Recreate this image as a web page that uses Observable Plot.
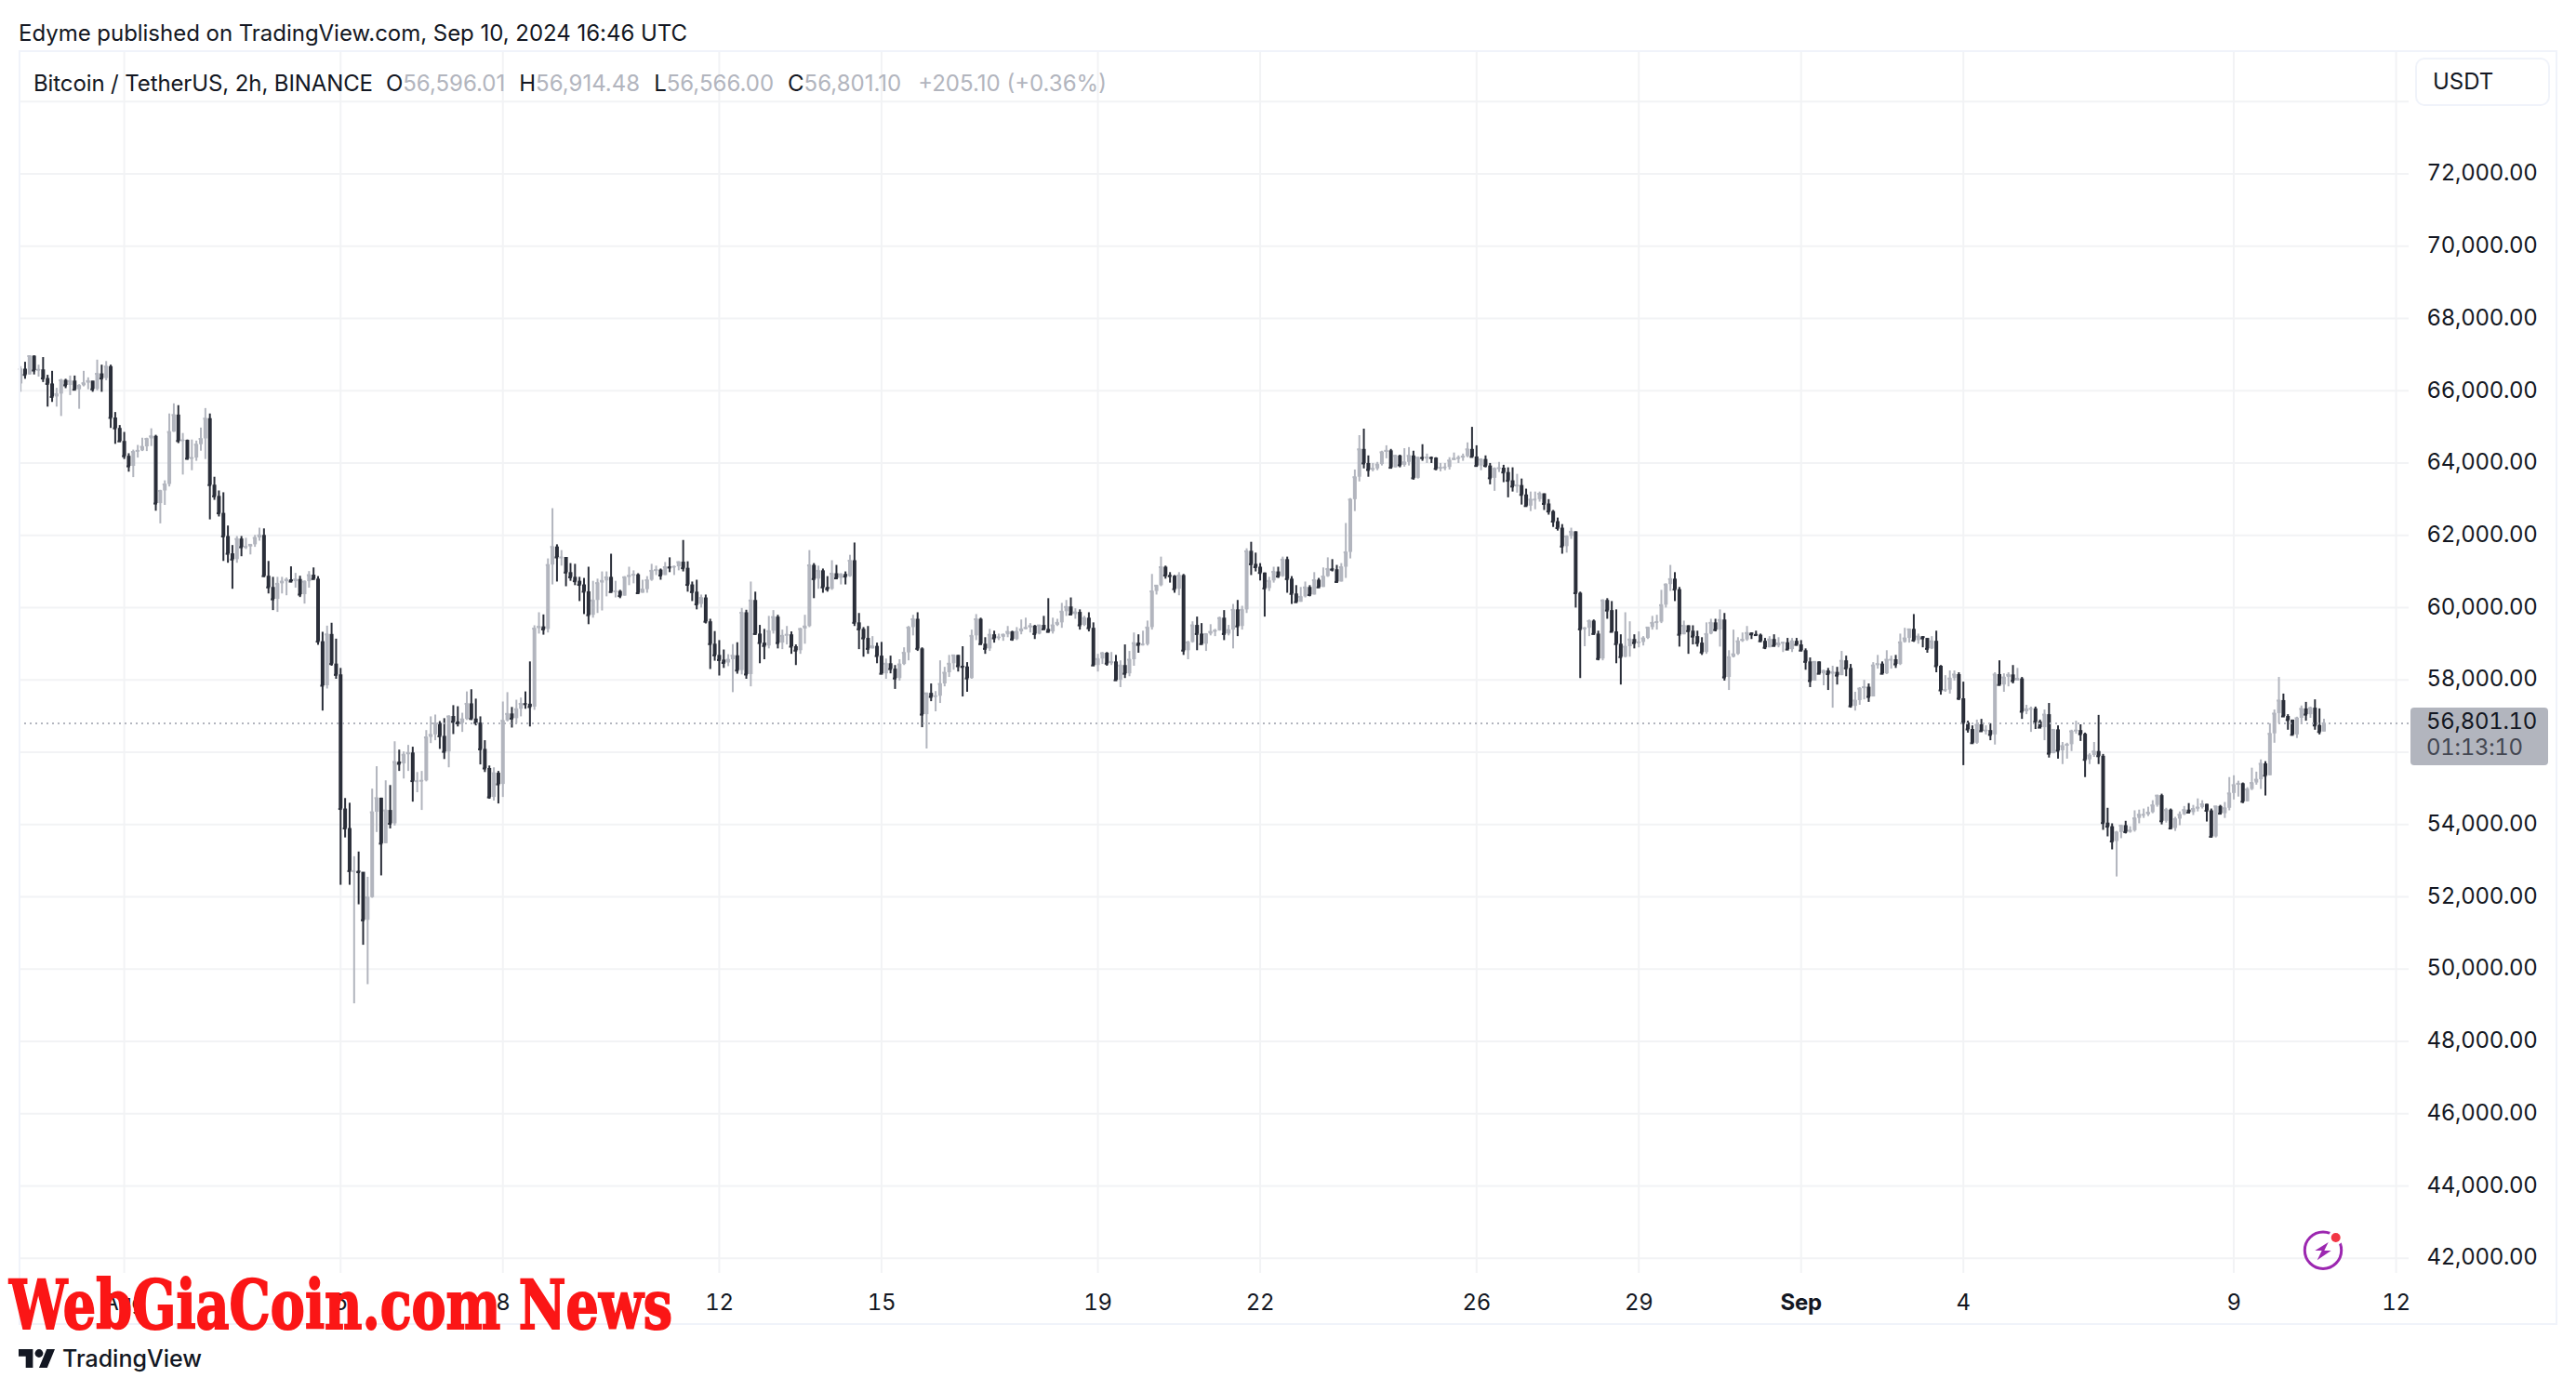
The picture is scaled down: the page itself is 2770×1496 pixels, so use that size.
<!DOCTYPE html>
<html><head><meta charset="utf-8"><title>Bitcoin / TetherUS</title>
<script src="https://cdn.jsdelivr.net/npm/d3@7"></script>
<script src="https://cdn.jsdelivr.net/npm/@observablehq/plot@0.6"></script>
<style>
html,body{margin:0;padding:0;background:#fff}
#page{position:relative;width:2770px;height:1496px;overflow:hidden;font-family:Inter,sans-serif;color:#131722}
#head{height:54px;box-sizing:border-box;padding:22px 0 0 20px;font-size:24px;line-height:28px;white-space:nowrap;letter-spacing:-0.03px}
#page svg{display:block}
#frame{position:absolute;left:20px;top:54px;width:2730px;height:1371px;box-sizing:border-box;border:2px solid #f0f3fa;pointer-events:none}
#legend{position:absolute;left:36px;top:75px;font-size:24px;line-height:30px;white-space:nowrap;color:#131722}
#legend i{font-style:normal;color:#b2b5be}
#legend b{font-weight:400;margin-left:15px}
#legend span{letter-spacing:-0.11px}
#usdt{position:absolute;left:2597px;top:62px;width:145px;height:52px;box-sizing:border-box;border:2px solid #f0f3fa;border-radius:10px;background:#fff;padding:9px 0 0 17px;font-size:24px;line-height:30px}
#tv{position:absolute;left:20px;top:1446px;display:flex;align-items:center;gap:8px;font-size:25px;font-weight:500;line-height:30px;color:#131722}
#mark{position:absolute;left:10px;top:1361px;font-family:"DejaVu Serif",serif;font-weight:700;font-size:72px;line-height:86px;color:#fb1616;white-space:nowrap;transform-origin:left center;-webkit-text-stroke:2px #fb1616}
#energy{position:absolute;left:2475px;top:1322px}
</style></head>
<body>
<div id="page">
<div id="head">Edyme published on TradingView.com, Sep 10, 2024 16:46 UTC</div>
<div id="chart"></div>
<div id="frame"></div>
<div id="legend"><span>Bitcoin / TetherUS, 2h, BINANCE</span><b style="margin-left:14px">O</b><i>56,596.01</i><b>H</b><i>56,914.48</i><b>L</b><i>56,566.00</i><b>C</b><i>56,801.10</i><i style="margin-left:18px">+205.10 (+0.36%)</i></div>
<div id="usdt">USDT</div>
<svg id="energy" width="46" height="46" viewBox="0 0 46 46"><circle cx="23" cy="22.7" r="19.7" fill="none" stroke="#9c27b0" stroke-width="3"/><circle cx="36.7" cy="9" r="8" fill="#fff"/><circle cx="36.7" cy="9" r="5" fill="#f23645"/><path d="M28.7 14L14.3 23H21.7L16.7 33.3L31.7 23H24.3Z" fill="#9c27b0"/></svg>
<div id="tv"><svg width="39" height="20" viewBox="0 4 35.5 18"><path d="M14 22H7V11H0V4h14zM28 22h-8l7.5-18h8z" fill="#131722"/><circle cx="20" cy="8" r="4" fill="#131722"/></svg><span>TradingView</span></div>
<div id="mark">WebGiaCoin.com News</div>
</div>
<script>
const firstBar = "2024-07-30T02:00:00Z";
const barMs = 2 * 3600 * 1000;
const firstOpen = 66190;
const closes = [
66600,66440,66960,66560,66580,66340,66190,65830,65910,66290,
66150,66270,66030,66140,66210,66270,66040,66470,66340,66670,
65250,64960,64600,64190,63910,64310,64340,64450,64670,64740,
62880,63230,63410,64860,65330,64610,64630,64120,64140,64510,
64670,65230,63390,63080,62610,61970,61490,61330,61900,61670,
61680,61740,61930,62000,60870,60560,60230,60660,60720,60770,
60720,60780,60360,60720,60900,60790,59060,57840,59260,58440,
58140,54430,53890,52710,52710,52680,51350,51980,54340,54730,
53470,54390,54020,55730,55680,55930,55980,55200,55200,55210,
56410,56480,56800,56440,56010,56990,56840,56800,56910,57340,
56920,56810,56080,55550,54750,55420,55110,56870,57060,56930,
57190,57340,57330,57250,59420,59470,59400,61180,61680,61390,
61390,60970,60840,60730,60630,60440,59790,60200,60680,60740,
60840,60430,60450,60320,60840,60880,60910,60400,60500,60760,
61020,61040,60890,61120,61110,61130,61260,61090,60630,60430,
60090,60270,59610,58990,58680,58550,58470,58560,58670,58260,
59860,58150,60200,59270,59020,58940,59350,59740,59020,59220,
59250,58920,58810,59410,59480,61170,60790,61020,60560,60510,
60940,60810,60920,60860,61300,59580,59400,59150,58860,58930,
58660,58170,58450,58300,58040,58430,58750,59450,59680,58860,
57040,57630,57530,57550,57890,58200,58450,58680,58380,58360,
58040,59220,59680,58990,58860,59250,59150,59180,59250,59330,
59120,59330,59400,59440,59490,59270,59510,59400,59330,59510,
59580,59890,60020,59810,59870,59510,59710,59430,58400,58580,
58740,58450,58500,57990,58400,58170,58560,59020,58970,58980,
59450,60450,60610,61120,60890,60870,60510,60890,58810,59040,
59510,59270,58990,59270,59330,59360,59710,59270,59380,59940,
59480,59940,61560,61200,61120,60960,60530,60740,60990,60860,
61330,60790,60380,60150,60300,60560,60350,60760,60560,60860,
61070,61050,60710,61120,61530,62990,63610,64380,63990,63810,
63840,63960,64300,64340,63870,64200,63940,64020,64200,63580,
64150,64140,64150,64140,63840,63870,63880,64070,64120,64140,
64180,64380,64170,63920,64100,63920,63580,63840,63860,63740,
63510,63350,63380,63120,62810,62990,62990,63150,62870,62660,
62380,62200,61690,61970,62100,60400,59400,59430,59630,59270,
58580,60200,59920,59330,58990,58630,58920,59120,59020,59040,
59150,59450,59580,59600,60070,60640,60790,60500,59250,59500,
59350,59200,59020,58760,59270,59580,59380,59660,58070,58630,
58710,59070,59110,59300,59260,59240,59070,58890,59120,58940,
59010,59030,58840,59070,58970,58810,58500,57970,58500,58170,
58250,58160,58210,58120,58530,58320,57270,57430,57760,57800,
57530,58400,58440,58170,58560,58560,58430,59040,59150,59400,
59090,59200,59150,58860,59070,58380,57710,57720,58040,58150,
57480,56810,56630,56250,56760,56580,56600,56480,58150,57860,
58070,58140,57970,58030,57120,57190,57200,56840,56680,57040,
55960,56620,56040,56170,56210,56580,56600,56500,55790,55910,
56020,55890,54040,53940,53530,53780,53970,53790,53830,54170,
54270,54270,54330,54530,54800,54090,54400,53890,54150,54270,
54400,54330,54430,54470,54560,54380,53660,54500,54300,54450,
54860,55090,55130,54630,54970,55150,55240,55680,55350,56510,
57070,57430,56990,56890,56480,56940,57200,57040,57220,56740,
56560,56801.1];
const highs = [
66670,66790,66970,66970,66710,66920,66430,66540,66070,66320,
66320,66410,66410,66170,66540,66360,66260,66850,66710,66810,
66710,65400,65040,64850,64260,64360,64490,64690,64690,64950,
64770,63250,63510,65360,65640,65590,64820,64640,64640,64610,
64970,65510,65360,63610,63230,63180,62260,61720,61970,61970,
61920,61740,62000,62200,62180,61280,60840,60840,60840,60820,
61130,60950,60870,60740,61000,61100,60860,59320,59490,59570,
59130,58320,54720,54590,53110,53240,52670,52540,54980,55600,
54730,55210,55080,56290,56060,56010,56190,56140,55440,55470,
56600,56980,57030,56850,56930,57010,57290,57260,57080,57670,
57730,57470,56980,56320,55620,55570,55470,57390,57650,57240,
57440,57500,57670,58500,59500,59860,59800,61350,62740,61740,
61580,61380,61220,61200,60840,60810,61120,60730,60790,60990,
60990,61480,60730,60480,60860,61120,61020,60940,60760,60860,
61200,61150,61070,61250,61380,61150,61270,61860,61270,60710,
60760,60350,60350,59680,59340,59090,58830,58700,58980,59030,
59980,59930,60710,60430,59510,59400,59760,59920,59790,59380,
59480,59330,58970,59430,59790,61580,61220,61150,61070,60860,
61300,61170,60940,60990,61450,61790,59840,59450,59480,59200,
59020,59040,58580,58660,58400,58560,58890,59480,59790,59860,
58890,57630,57890,57680,58530,58350,58680,58680,58680,58920,
58480,59380,59810,59710,59170,59400,59350,59270,59270,59480,
59350,59450,59660,59710,59560,59510,59510,59760,60250,59710,
59680,60120,60200,60270,59970,59940,59760,59860,59580,58710,
58760,58760,58760,58680,58530,58970,58790,59300,59250,59350,
59630,60920,60610,61400,61150,60970,60890,60970,60920,59070,
59610,59740,59560,59270,59530,59400,59740,59920,59510,60090,
60200,60040,61630,61810,61510,61220,60960,60840,61120,61120,
61400,61400,60860,60610,60560,60710,60610,60970,60810,61100,
61380,61330,61170,61220,62330,63020,63810,64760,64940,64200,
63990,64020,64330,64480,64380,64220,64220,64400,64430,64330,
64150,64510,64250,64170,64150,63990,63990,64150,64280,64200,
64250,64560,64990,64480,64120,64200,63990,63870,64020,63940,
63870,63870,63690,63560,63280,63200,63200,63200,63150,62990,
62690,62480,62300,61990,62200,62100,60430,59450,59660,59660,
59350,60220,60250,60170,59940,59250,59860,59610,59250,59330,
59200,59450,59760,59790,60480,60660,61170,60970,60560,59630,
59500,59500,59350,59170,59580,59680,59680,59940,59840,58810,
59380,59170,59300,59480,59300,59350,59270,59150,59200,59250,
59170,59040,59150,59150,59150,59090,58860,58610,58500,58500,
58270,58320,58380,58350,58790,58660,58430,57660,57790,57990,
57890,58480,58680,58500,58810,58660,58680,59270,59430,59400,
59810,59270,59200,59150,59200,59350,58400,58120,58250,58250,
58200,57940,56860,56730,56890,56910,56730,56790,58200,58530,
58170,58200,58400,58320,58070,57300,57250,57250,56890,57170,
57350,56630,56730,56270,56250,56610,56860,56760,56530,55960,
56270,57020,55940,54450,54020,53810,53970,54090,53940,54380,
54400,54430,54480,54660,54810,54840,54450,54430,54200,54350,
54500,54580,54530,54710,54660,54560,54430,54500,54530,54610,
55300,55350,55200,55150,55020,55560,55450,55790,55740,56790,
57170,58070,57610,57040,56890,56970,57280,57380,57250,57450,
57200,56914.48];
const lows = [
65960,66320,66440,66440,66380,66230,65550,65680,65550,65290,
66060,65870,66030,65490,66110,66030,65960,66000,65960,66280,
64960,64520,64590,64100,63750,63600,64140,64320,64320,64460,
62670,62320,62830,63340,64850,64540,63670,64080,63790,64050,
64330,64100,62430,62970,62510,61280,61230,60510,61230,61410,
61610,61460,61670,61840,60840,60380,59920,59870,60380,60330,
60690,60540,60280,60100,60540,60790,58960,57140,57750,58380,
58020,52320,53630,52320,49040,51780,50660,49570,51960,53780,
52580,53470,53880,53960,55470,55260,55470,54620,54880,54390,
55180,56240,56320,56080,55800,55570,56490,56700,56550,56880,
56880,56730,55650,55440,54700,54650,54570,54750,56840,56670,
56780,56980,57190,56700,57160,59270,59240,59300,60630,60710,
61150,60580,60730,60610,60170,59810,59530,59710,59840,59910,
60300,60430,60270,60250,60320,60610,60660,60400,60400,60400,
60730,60890,60760,60890,60970,60890,61020,60990,60430,60170,
59940,59990,59550,58290,58520,58110,58320,58370,57650,58160,
58140,58020,57810,59240,58450,58560,58860,59270,58860,58840,
58970,58710,58400,58710,58990,59450,60250,60510,60400,60430,
60480,60790,60630,60630,60840,59480,58840,58630,58710,58860,
58450,58150,58020,58170,57740,57970,58400,58530,59220,58790,
56680,56090,57400,57120,57350,57810,58070,58270,58220,57530,
57660,58020,59090,58970,58710,58790,59020,59090,59070,59170,
59070,59090,59250,59390,59300,59120,59250,59390,59300,59270,
59480,59430,59760,59810,59680,59380,59480,59330,58400,58220,
58430,58380,58400,57970,57790,58040,58090,58380,58740,58940,
58940,59380,60350,60580,60790,60680,60400,60330,58680,58560,
59020,58810,58990,58790,59220,59200,59350,59090,59220,58860,
59200,59380,59840,60890,60990,60740,59740,60450,60680,60810,
60840,60400,60090,60150,60150,60270,60300,60350,60560,60560,
60840,60990,60680,60710,60810,61350,62660,63480,63840,63610,
63760,63790,63920,64120,63870,63870,63870,63890,63920,63530,
63560,64050,63990,63990,63790,63760,63790,63810,64100,63990,
64050,64150,64170,63890,63790,63870,63400,63220,63740,63460,
63040,63200,63170,62840,62790,62660,62710,62920,62690,62560,
62220,62120,61480,61510,61890,59990,58040,58920,59200,59250,
58530,58530,59680,59330,58450,57860,58610,58630,58860,58890,
58940,59120,59380,59380,59560,59990,60450,60170,58910,59250,
58710,58970,58910,58680,58710,59250,59330,58910,57970,57710,
58610,58680,59040,59070,59120,59220,59040,58840,58890,58940,
58890,58760,58840,58760,58940,58810,58270,57790,57970,58150,
57840,57710,57220,57860,58120,58090,57220,57140,57300,57450,
57380,57530,58300,58150,58150,58300,58320,58400,59020,59020,
59040,58990,58890,58740,58840,58200,57580,57660,57610,57970,
57430,55630,56530,56220,56220,56580,56480,56320,56200,57840,
57660,57810,57890,57970,56910,57040,56550,56630,56660,56320,
55840,55960,55810,55660,55810,56020,56500,56300,55300,55660,
55860,55660,53840,53660,53300,52550,53610,53740,53760,53790,
54020,54170,54220,54300,54480,53990,54040,53860,53810,53970,
54250,54330,54250,54350,54430,54070,53630,53630,54270,54170,
54380,54680,54760,54580,54630,54940,55090,54970,54790,55350,
56250,56790,56990,56610,56480,56380,56760,56860,56940,56610,
56480,56566];
const priceTicks = [42000,44000,46000,48000,50000,52000,54000,56000,58000,60000,62000,64000,66000,68000,70000,72000];
const priceGrid = [...priceTicks, 74000];
const dateTicks = ["2024-08-01","2024-08-05","2024-08-08","2024-08-12","2024-08-15","2024-08-19","2024-08-22","2024-08-26","2024-08-29","2024-09-01","2024-09-04","2024-09-09","2024-09-12"];
const dateLabels = ["Aug","5","8","12","15","19","22","26","29","Sep","4","9","12"];
const lastPrice = 56801.10;
const lastLabel = "56,801.10";
const countdown = "01:13:10";

const t0 = new Date(firstBar).getTime();
const bars = closes.map((c, i) => {
  const open = i === 0 ? firstOpen : closes[i - 1];
  return {t: new Date(t0 + i * barMs), t1: new Date(t0 + i * barMs - 0.4 * barMs), t2: new Date(t0 + i * barMs + 0.4 * barMs),
          open, close: c, high: highs[i], low: lows[i], dir: c >= open ? "up" : "down"};
});
const dates = dateTicks.map(d => new Date(d + "T00:00:00Z"));
const boldDate = dates[dateLabels.indexOf("Sep")];
const labelOf = d => dateLabels[dates.findIndex(x => +x === +d)];
const fmt = d3.format(",.2f");
const GRID = "#f2f3f5", INK = "#131722";

function priceTag(index, {y}, channels, {width, marginRight}) {
  const g = d3.create("svg:g").attr("font-family", "Inter").attr("font-size", 24).attr("text-anchor", "start");
  const yy = y(lastPrice), x0 = width - marginRight;
  g.append("rect").attr("x", x0 + 2).attr("y", yy - 16.5).attr("width", 148).attr("height", 62).attr("rx", 4).attr("fill", "#b2b5be");
  g.append("text").attr("x", x0 + 19).attr("y", yy - 2).attr("dy", "0.36em").attr("fill", INK).text(lastLabel);
  g.append("text").attr("x", x0 + 19).attr("y", yy + 26).attr("dy", "0.36em").attr("fill", "#434651").text(countdown);
  return g.node();
}

const chart = Plot.plot({
  width: 2770, height: 1371,
  marginLeft: 20, marginRight: 180, marginTop: 0, marginBottom: 56,
  style: {fontFamily: "Inter", background: "transparent", overflow: "visible", letterSpacing: "-0.3px", fontVariantNumeric: "tabular-nums"},
  x: {type: "utc", domain: [new Date("2024-07-30T01:20:00Z"), new Date("2024-09-12T05:45:00Z")]},
  y: {domain: [41581, 75411]},
  color: {domain: ["up", "down"], range: ["#b2b5be", "#2a2e39"]},
  marks: [
    Plot.ruleX(dates, {stroke: GRID, strokeWidth: 2}),
    Plot.ruleY(priceGrid, {stroke: GRID, strokeWidth: 2}),
    Plot.ruleX(bars, {x: "t", y1: "low", y2: "high", stroke: "dir", strokeWidth: 2}),
    Plot.ruleX(bars, {x: "t", y1: "open", y2: "close", stroke: "dir", strokeWidth: 4}),
    Plot.ruleY(bars, {y: "close", x1: "t1", x2: "t2", stroke: "dir", strokeWidth: 2}),
    Plot.ruleY([lastPrice], {stroke: "#b2b5be", strokeWidth: 2, strokeDasharray: "2,4"}),
    Plot.axisY({anchor: "right", ticks: priceTicks, tickFormat: fmt, tickSize: 0, tickPadding: 19, fontSize: 24, fill: INK, textAnchor: "start", dy: -0.5, label: null}),
    Plot.axisX({anchor: "bottom", ticks: dates.filter(d => d !== boldDate), tickFormat: labelOf, tickSize: 0, tickPadding: 22, fontSize: 24, fill: INK, label: null}),
    Plot.axisX({anchor: "bottom", ticks: [boldDate], tickFormat: labelOf, tickSize: 0, tickPadding: 22, fontSize: 24, fontWeight: 700, fill: INK, label: null}),
    priceTag
  ]
});
document.getElementById("chart").appendChild(chart);
const m = document.getElementById("mark");
m.style.transform = `scaleX(${713 / m.getBoundingClientRect().width})`;
</script>
</body></html>
